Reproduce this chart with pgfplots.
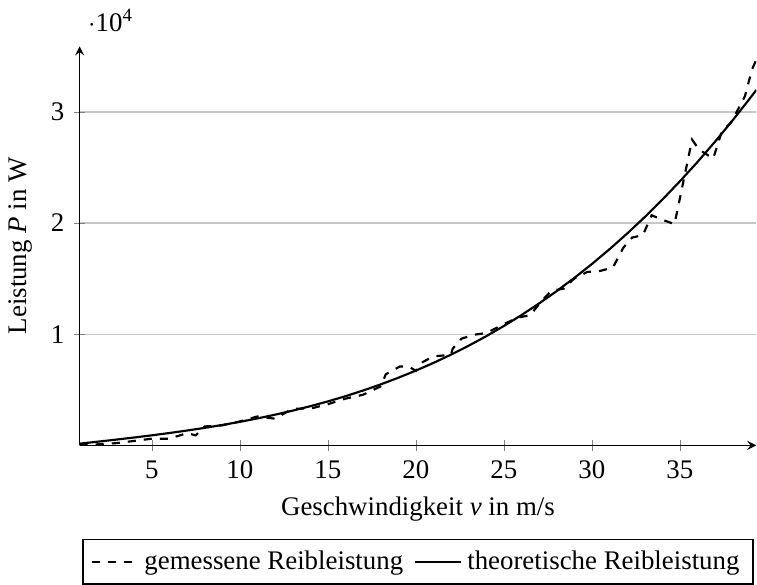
\documentclass[border=0pt]{standalone}
\usepackage{fontspec}
\setmainfont{Liberation Serif}
\usepackage{pgfplots}
\pgfplotsset{compat=1.18}
\begin{document}
\begin{tikzpicture}
\begin{axis}[
  scale only axis,
  width=252pt, height=148.6pt,
  axis lines=left,
  axis line style={line width=0.5pt},
  tick align=center,
  xmin=0.9, xmax=39.35,
  ymin=0, ymax=35900,
  xtick={5,10,15,20,25,30,35},
  xticklabels={5,10,15,20,25,30,35},
  ytick={10000,20000,30000},
  yticklabels={1,2,3},
  ymajorgrids=true,
  grid style={gray!45, line width=0.5pt},
  scaled y ticks=base 10:-4,
  ytick scale label code/.code={\(\cdot\)10\textsuperscript{#1}},
  every y tick scale label/.style={at={(axis description cs:0,1)}, anchor=base west, xshift=3pt, yshift=5.5pt, inner xsep=0pt, inner ysep=3.5pt},
  xlabel={Geschwindigkeit \textit{v} in m/s},
  ylabel={Leistung \textit{P} in W},
  legend style={at={(0.5,-0.235)}, anchor=north, legend columns=2, draw=black, line width=0.5pt, /tikz/every even column/.append style={column sep=2pt}},
]
\addplot[black, dashed, line width=0.8pt] coordinates {
(0.9,0) (2,100) (3,200) (4,400) (5,600) (6,600) (7,1100) (7.5,900) (8,1700) (9,1800)
(10,2150) (11,2600) (12,2400) (13,3300) (14,3300) (15,3700) (16,4200) (17,4550) (18,5300)
(18.3,6400) (19.1,7100) (19.6,7100) (20,6700) (20.4,7500) (21,8000) (22,8150) (22.1,8700)
(22.6,9600) (23.3,9950) (24,10100) (25,10900) (25.8,11500) (26.5,11700) (27.1,12900)
(27.7,13900) (28.4,14100) (29,15000) (29.75,15600) (30.5,15700) (31.2,16000) (31.8,17800)
(32.3,18700) (32.9,18900) (33.4,20700) (34,20300) (34.7,19900) (35.7,27500) (36.1,26600)
(36.9,25800) (37.4,28300) (37.9,29000) (38.7,31400) (39.1,33800) (39.35,34700)
};
\addlegendentry{gemessene Reibleistung}
\addplot[black, line width=0.8pt] coordinates {
(0.9,153) (1,170) (2,343) (3,521) (4,707) (5,902) (6,1110) (7,1332) (8,1572) (9,1833)
(10,2115) (11,2422) (12,2757) (13,3122) (14,3519) (15,3951) (16,4420) (17,4929)
(18,5480) (19,6077) (20,6720) (21,7413) (22,8159) (23,8959) (24,9817) (25,10734)
(26,11714) (27,12758) (28,13870) (29,15051) (30,16305) (31,17633) (32,19039)
(33,20524) (34,22091) (35,23743) (36,25482) (37,27311) (38,29232) (39,31247) (39.35,31975)
};
\addlegendentry{theoretische Reibleistung}
\end{axis}
\end{tikzpicture}
\end{document}
